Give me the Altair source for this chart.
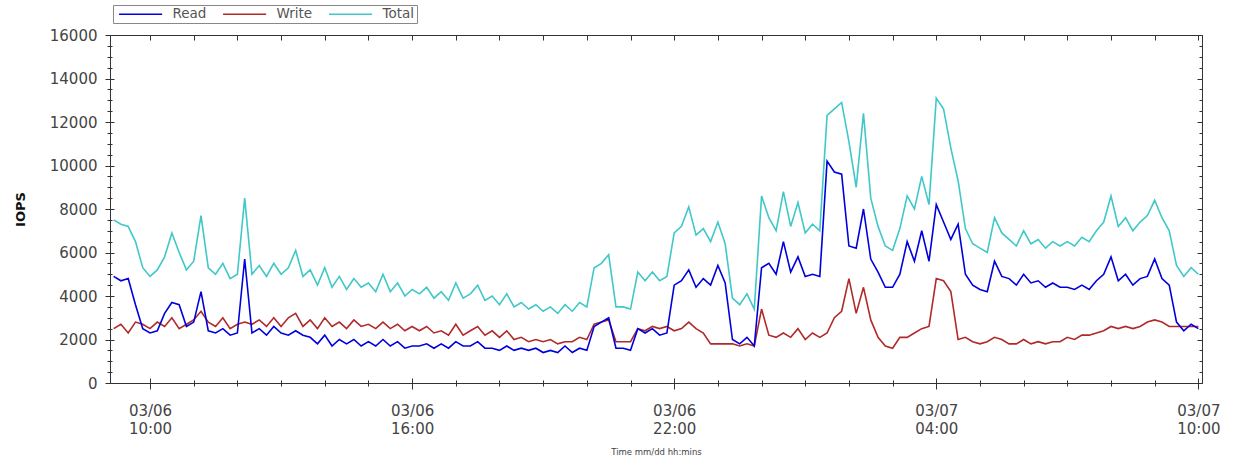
import altair as alt
import pandas as pd

# One reading every 10 minutes, 03/06 09:10 through 03/07 10:00
sample_times = pd.date_range("2020-03-06 09:10", "2020-03-07 10:00", freq="10min")

read_iops = [
    4900, 4700, 4800, 3600, 2500, 2300, 2400, 3200, 3700, 3600,
    2600, 2800, 4200, 2400, 2300, 2500, 2200, 2300, 5700, 2300,
    2500, 2200, 2600, 2300, 2200, 2400, 2200, 2100, 1800, 2200,
    1700, 2000, 1800, 2000, 1700, 1900, 1700, 2000, 1700, 1900,
    1600, 1700, 1700, 1800, 1600, 1800, 1600, 1900, 1700, 1700,
    1900, 1600, 1600, 1500, 1700, 1500, 1600, 1500, 1600, 1400,
    1500, 1400, 1700, 1400, 1600, 1500, 2600, 2800, 3000, 1600,
    1600, 1500, 2500, 2300, 2500, 2200, 2300, 4500, 4700, 5200,
    4400, 4800, 4500, 5400, 4600, 2000, 1800, 2100, 1700, 5300,
    5500, 5000, 6500, 5100, 5800, 4900, 5000, 4900, 10200, 9700,
    9600, 6300, 6200, 8000, 5700, 5100, 4400, 4400, 5000, 6500,
    5600, 7000, 5600, 8200, 7400, 6600, 7300, 5000, 4500, 4300,
    4200, 5600, 4900, 4800, 4500, 5000, 4600, 4700, 4400, 4600,
    4400, 4400, 4300, 4500, 4300, 4700, 5000, 5800, 4700, 5000,
    4500, 4800, 4900, 5700, 4800, 4500, 2800, 2400, 2700, 2500,
]

write_iops = [
    2500, 2700, 2300, 2800, 2700, 2500, 2800, 2600, 3000, 2500,
    2700, 2900, 3300, 2800, 2600, 3000, 2500, 2700, 2800, 2700,
    2900, 2600, 3000, 2600, 3000, 3200, 2600, 2900, 2500, 3000,
    2600, 2800, 2500, 2900, 2600, 2700, 2500, 2800, 2500, 2700,
    2400, 2600, 2400, 2600, 2300, 2400, 2200, 2700, 2200, 2400,
    2600, 2200, 2400, 2100, 2400, 2000, 2100, 1900, 2000, 1900,
    2000, 1800, 1900, 1900, 2100, 2000, 2700, 2800, 2900, 1900,
    1900, 1900, 2500, 2400, 2600, 2500, 2600, 2400, 2500, 2800,
    2500, 2300, 1800, 1800, 1800, 1800, 1700, 1800, 1700, 3400,
    2200, 2100, 2300, 2100, 2500, 2000, 2300, 2100, 2300, 3000,
    3300, 4800, 3200, 4400, 2900, 2100, 1700, 1600, 2100, 2100,
    2300, 2500, 2600, 4800, 4700, 4200, 2000, 2100, 1900, 1800,
    1900, 2100, 2000, 1800, 1800, 2000, 1800, 1900, 1800, 1900,
    1900, 2100, 2000, 2200, 2200, 2300, 2400, 2600, 2500, 2600,
    2500, 2600, 2800, 2900, 2800, 2600, 2600, 2600, 2600, 2600,
]

total_iops = [
    7500, 7300, 7200, 6500, 5300, 4900, 5200, 5800, 6900, 6000,
    5200, 5600, 7700, 5300, 5000, 5500, 4800, 5000, 8500, 5000,
    5400, 4900, 5500, 5000, 5300, 6100, 4900, 5200, 4500, 5300,
    4400, 4900, 4300, 4800, 4400, 4600, 4200, 5000, 4200, 4600,
    4000, 4300, 4100, 4400, 3900, 4200, 3800, 4600, 3900, 4100,
    4500, 3800, 4000, 3600, 4100, 3500, 3700, 3400, 3600, 3300,
    3500, 3200, 3600, 3300, 3700, 3500, 5300, 5500, 5900, 3500,
    3500, 3400, 5100, 4700, 5100, 4700, 4900, 6900, 7200, 8100,
    6800, 7100, 6500, 7400, 6400, 3900, 3600, 4100, 3400, 8600,
    7600, 7000, 8800, 7200, 8300, 6900, 7300, 7000, 12300, 12600,
    12900, 11100, 9000, 12400, 8500, 7200, 6300, 6100, 7100, 8600,
    8000, 9500, 8200, 13100, 12600, 10800, 9300, 7100, 6400, 6200,
    6000, 7600, 6900, 6600, 6300, 7000, 6400, 6600, 6200, 6500,
    6300, 6500, 6300, 6700, 6500, 7000, 7400, 8600, 7200, 7600,
    7000, 7400, 7700, 8400, 7600, 7000, 5400, 4900, 5300, 5000,
]

series_names = ["Read", "Write", "Total"]
series_colors = ["#0000dd", "#b02a2a", "#40c8c8"]

y_major = list(range(0, 16001, 2000))
y_minor = list(range(0, 16001, 500))


def stamp(hours_after_ten):
    h = 10 + hours_after_ten
    return alt.DateTime(year=2020, month=3, date=6 + h // 24, hours=h % 24)


hour_ticks = [stamp(h) for h in range(0, 25)]
major_ticks = [stamp(h) for h in range(0, 25, 6)]

x_scale = alt.Scale(domain=[
    alt.DateTime(year=2020, month=3, date=6, hours=9, minutes=5),
    alt.DateTime(year=2020, month=3, date=7, hours=10, minutes=5),
])
y_scale = alt.Scale(domain=[0, 16000], nice=False)

frames = []
for name, vals in [("Total", total_iops), ("Write", write_iops), ("Read", read_iops)]:
    frames.append(pd.DataFrame({"time": sample_times, "series": name, "iops": vals}))
df = pd.concat(frames, ignore_index=True)

FONT = "DejaVu Sans"
TICK = "#333333"

# legend swatch: a long horizontal stroke drawn from a small symbol size
SWATCH = "M-0.5,0H7.5"


def tick_axis(orient, values, offset, size):
    return alt.Axis(orient=orient, values=values, offset=offset, tickSize=size,
                    labels=False, domain=False, grid=False, title=None,
                    tickColor=TICK, tickWidth=1)


lines = alt.Chart(df).mark_line(strokeWidth=1.6).encode(
    x=alt.X("time:T", scale=x_scale, axis=alt.Axis(
        orient="bottom", values=major_ticks, offset=-5, tickSize=11,
        domain=False, grid=False, tickColor=TICK,
        labelExpr="[timeFormat(datum.value, '%m/%d'), timeFormat(datum.value, '%H:%M')]",
        labelFlush=False, labelOverlap=False, labelPadding=14, labelFont=FONT,
        labelFontSize=15, labelColor="#444444", labelLineHeight=18,
        title="Time mm/dd hh:mins", titleFont=FONT, titleFontSize=8.5,
        titleFontWeight="normal", titleColor="#444444", titlePadding=11)),
    y=alt.Y("iops:Q", scale=y_scale, axis=alt.Axis(
        orient="left", values=y_major, offset=-4, tickSize=9, format="d",
        domain=False, grid=False, tickColor=TICK, labelPadding=8,
        labelFont=FONT, labelFontSize=15, labelColor="#444444",
        title="IOPS", titleFont=FONT, titleFontSize=13, titleFontWeight="bold",
        titleColor="#111111", titlePadding=22)),
    color=alt.Color("series:N", scale=alt.Scale(domain=series_names, range=series_colors),
                    legend=alt.Legend(
                        orient="none", legendX=3, legendY=-30, direction="horizontal",
                        title=None, symbolType=SWATCH, symbolSize=116,
                        symbolStrokeWidth=1.5, labelFont=FONT, labelFontSize=13.5,
                        labelColor="#555555", strokeColor="#888888", fillColor="white",
                        padding=2, columnPadding=12, labelOffset=44)),
)


def tick_layer(x_axis, y_axis):
    return alt.Chart(df).mark_line(strokeOpacity=0).encode(
        x=alt.X("time:T", scale=x_scale, axis=x_axis),
        y=alt.Y("iops:Q", scale=y_scale, axis=y_axis),
        detail="series:N",
    )


minor_left_bottom = tick_layer(tick_axis("bottom", hour_ticks, -3, 6),
                               tick_axis("left", y_minor, -2, 5))
inner_top_right = tick_layer(tick_axis("top", hour_ticks, -5, 5),
                             tick_axis("right", y_major, -5, 5))
inner_right_minor = tick_layer(None, tick_axis("right", y_minor, -3, 3))

chart = alt.layer(lines, minor_left_bottom, inner_top_right, inner_right_minor).resolve_scale(
    x="shared", y="shared"
).resolve_axis(
    x="independent", y="independent"
).properties(
    width=1092, height=348,
    autosize=alt.AutoSizeParams(type="none"),
    padding={"left": 110, "top": 35, "right": 31, "bottom": 80},
).configure_view(stroke="#333333", strokeWidth=1)

chart.save("out.html", embed_options={"renderer": "svg", "actions": False})
